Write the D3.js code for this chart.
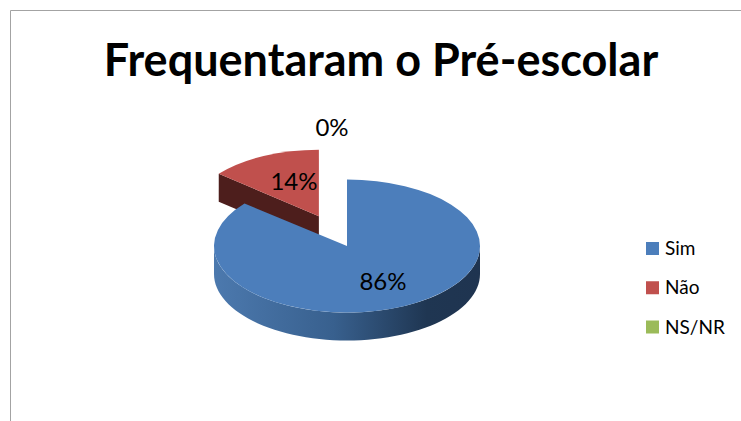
<!DOCTYPE html>
<html>
<head>
<meta charset="utf-8">
<script src="https://cdn.jsdelivr.net/npm/d3@7"></script>
<style>
  html, body { margin: 0; padding: 0; background: #fff; }
  svg { display: block; }
  text { font-family: Lato, "Open Sans", sans-serif; fill: #000; }
</style>
</head>
<body>
<div id="chart"></div>
<script>
var chartTitle = "Frequentaram o Pré-escolar";
var categories = ["Sim", "Não", "NS/NR"];
var values = [86, 14, 0];
var labels = ["86%", "14%", "0%"];
var topColors = ["#4c7ebb", "#c0504d", "#9bbb59"];

var width = 741, height = 421;
var cx = 347, cy = 246, rx = 133, tilt = 0.5, depth = 28, explode = 66;
var redRx = 130;

var svg = d3.select("#chart").append("svg")
  .attr("width", width)
  .attr("height", height);

// frame, only top and left show in the crop
svg.append("path")
  .attr("d", "M10.5," + height + "V10.5H" + width)
  .attr("fill", "none")
  .attr("stroke", "#a3a3a3")
  .attr("stroke-width", 1);

svg.append("text")
  .attr("x", 381)
  .attr("y", 76)
  .attr("text-anchor", "middle")
  .style("font-size", "45px")
  .style("font-weight", 700)
  .text(chartTitle);

var defs = svg.append("defs");
// gradient sits inside the translated pie group, so x runs around 0
var blueSide = defs.append("linearGradient")
  .attr("id", "blueSide")
  .attr("gradientUnits", "userSpaceOnUse")
  .attr("x1", -rx).attr("x2", rx)
  .attr("y1", 0).attr("y2", 0);
blueSide.append("stop").attr("offset", 0).attr("stop-color", "#4c79ae");
blueSide.append("stop").attr("offset", 0.45).attr("stop-color", "#38608e");
blueSide.append("stop").attr("offset", 0.8).attr("stop-color", "#1f3652");
blueSide.append("stop").attr("offset", 1).attr("stop-color", "#1f3450");

var pie = d3.pie().sort(null).value(function(d) { return d; });
var slices = pie(values);
var arc = d3.arc().innerRadius(0).outerRadius(rx);
var redArc = d3.arc().innerRadius(0).outerRadius(redRx);

// d3 angle 0 is at 12 o'clock, going clockwise
function px(a, r) { return Math.sin(a) * r; }
function py(a, r) { return -Math.cos(a) * r * tilt; }

function sliceOffset(s) {
  var mid = (s.startAngle + s.endAngle) / 2;
  return s.index === 1 ? [px(mid, explode), py(mid, explode)] : [0, 0];
}

function rimPath(a0, a1) {
  var pts = d3.range(0, 61).map(function(i) {
    var a = a0 + (a1 - a0) * i / 60;
    return [px(a, rx), py(a, rx)];
  });
  var line = d3.line();
  return line(pts) + "L" + line(pts.slice().reverse().map(function(p) {
    return [p[0], p[1] + depth];
  })).slice(1) + "Z";
}

// red slice goes first, blue overlaps it
var redSlice = slices[1];
var redOff = sliceOffset(redSlice);
var redTilt = tilt * rx / redRx;
var red = svg.append("g")
  .attr("transform", "translate(" + (cx + redOff[0]) + "," + (cy + redOff[1]) + ")");
var ex = px(redSlice.startAngle, redRx), ey = -Math.cos(redSlice.startAngle) * redRx * redTilt;
red.append("path")
  .attr("d", d3.line()([[0, 0], [ex, ey], [ex, ey + depth], [0, depth]]) + "Z")
  .attr("fill", "#4d1e1c");
red.append("path")
  .attr("transform", "scale(1," + redTilt + ")")
  .attr("d", redArc(redSlice))
  .attr("fill", topColors[1]);

var blueSlice = slices[0];
var blue = svg.append("g")
  .attr("transform", "translate(" + cx + "," + cy + ")");
blue.append("path")
  .attr("d", rimPath(Math.PI / 2, Math.PI * 1.5))
  .attr("fill", "url(#blueSide)");
blue.append("path")
  .attr("transform", "scale(1," + tilt + ")")
  .attr("d", arc(blueSlice))
  .attr("fill", topColors[0]);

// data labels
var labelPos = [[383, 282], [294, 182], [332, 128]];
svg.selectAll("text.lab")
  .data(labels)
  .enter().append("text")
  .attr("class", "lab")
  .attr("x", function(d, i) { return labelPos[i][0]; })
  .attr("y", function(d, i) { return labelPos[i][1]; })
  .attr("dy", "0.35em")
  .attr("text-anchor", "middle")
  .style("font-size", "24px")
  .text(function(d) { return d; });

// legend
var legendY = d3.scalePoint().domain(categories).range([248.5, 327]);
var legend = svg.selectAll("g.legend")
  .data(categories)
  .enter().append("g")
  .attr("class", "legend")
  .attr("transform", function(d) { return "translate(646," + legendY(d) + ")"; });
legend.append("rect")
  .attr("y", -6.5)
  .attr("width", 13)
  .attr("height", 13)
  .attr("fill", function(d, i) { return topColors[i]; });
legend.append("text")
  .attr("x", 19)
  .attr("dy", "0.35em")
  .style("font-size", "19px")
  .text(function(d) { return d; });
</script>
</body>
</html>
